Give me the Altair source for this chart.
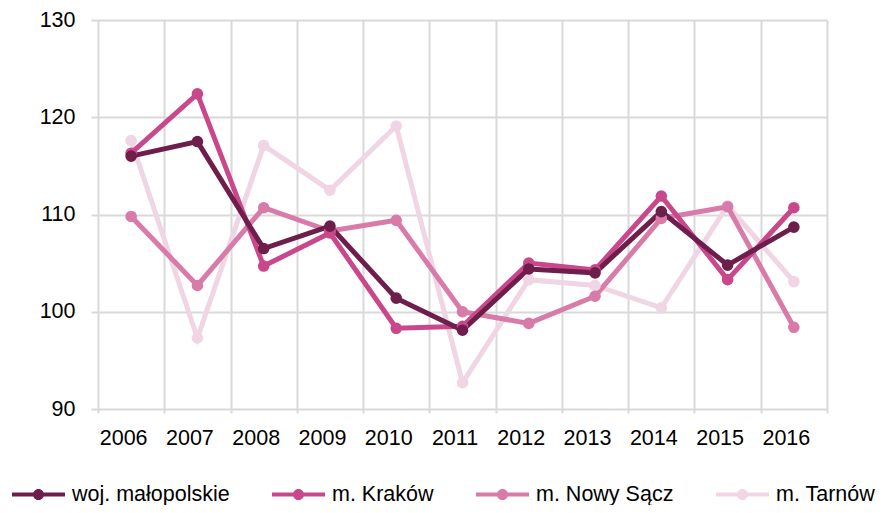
import altair as alt
import pandas as pd

years = ["2006", "2007", "2008", "2009", "2010", "2011", "2012", "2013", "2014", "2015", "2016"]
series_names = ["woj. małopolskie", "m. Kraków", "m. Nowy Sącz", "m. Tarnów"]
woj = [116.0, 117.5, 106.5, 108.8, 101.4, 98.1, 104.4, 104.0, 110.3, 104.8, 108.7]
krakow = [116.3, 122.4, 104.7, 108.1, 98.3, 98.5, 105.0, 104.3, 111.9, 103.3, 110.7]
nowy_sacz = [109.8, 102.7, 110.7, 108.3, 109.4, 100.0, 98.8, 101.6, 109.6, 110.8, 98.4]
tarnow = [117.6, 97.3, 117.1, 112.5, 119.1, 92.7, 103.3, 102.7, 100.4, 110.9, 103.1]
colors = ["#6e1e4b", "#c9488b", "#d87ba9", "#f0d5e4"]

values_by_series = {
    "m. Tarnów": tarnow,
    "m. Nowy Sącz": nowy_sacz,
    "m. Kraków": krakow,
    "woj. małopolskie": woj,
}
rows = []
for name, vals in values_by_series.items():
    for y, v in zip(years, vals):
        rows.append({"rok": y, "seria": name, "wartosc": v})
df = pd.DataFrame(rows)

grid_col = "#d9d9d9"
font = "Liberation Sans"

x_enc = alt.X(
    "rok:O",
    sort=years,
    bandPosition=0.5,
    scale=alt.Scale(type="band", paddingInner=0, paddingOuter=0),
    axis=alt.Axis(
        title=None,
        tickBand="extent",
        grid=True,
        gridColor=grid_col,
        gridWidth=2,
        tickColor=grid_col,
        tickWidth=2,
        tickSize=4,
        domain=False,
        labelAngle=0,
        labelPadding=14,
        labelOffset=-8,
        labelFont=font,
        labelFontSize=21.5,
        labelColor="#000000",
    ),
)
y_enc = alt.Y(
    "wartosc:Q",
    scale=alt.Scale(domain=[90, 130], nice=False, zero=False),
    axis=alt.Axis(
        title=None,
        values=[90, 100, 110, 120, 130],
        grid=True,
        gridColor=grid_col,
        gridWidth=2,
        tickColor=grid_col,
        tickWidth=2,
        tickSize=7,
        domain=False,
        labelPadding=16,
        labelFont=font,
        labelFontSize=21.5,
        labelColor="#000000",
    ),
)
color_scale = alt.Scale(domain=series_names, range=colors)

symbol_path = (
    "M-1,-0.08 L1,-0.08 L1,0.08 L-1,0.08 Z "
    "M0.21,0 A0.21,0.21 0 1,1 -0.21,0 A0.21,0.21 0 1,1 0.21,0 Z"
)

legend = alt.Legend(
    title=None,
    orient="none",
    legendX=-86,
    legendY=448,
    direction="horizontal",
    columns=4,
    columnPadding=42,
    symbolType=symbol_path,
    symbolSize=2809,
    symbolStrokeWidth=0,
    labelOffset=7,
    labelFont=font,
    labelFontSize=21.5,
    labelColor="#000000",
    labelLimit=400,
)

lines = alt.Chart(df).mark_line(strokeWidth=5).encode(
    x=x_enc,
    y=y_enc,
    color=alt.Color("seria:N", scale=color_scale, legend=legend),
)
points = alt.Chart(df).mark_point(filled=True, size=135, opacity=1).encode(
    x=x_enc,
    y=y_enc,
    color=alt.Color("seria:N", scale=color_scale, legend=legend),
)

chart = (
    alt.layer(lines, points)
    .properties(
        width=729,
        height=389,
        autosize=alt.AutoSizeParams(type="none"),
        padding={"left": 90, "top": 12, "right": 50, "bottom": 96},
    )
    .configure_view(stroke=None)
)

chart.save("out.html", embed_options={"renderer": "svg", "actions": False})
